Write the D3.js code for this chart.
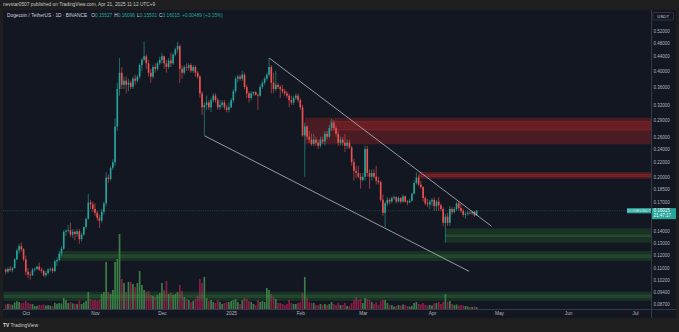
<!DOCTYPE html>
<html><head><meta charset="utf-8">
<script src="https://cdn.jsdelivr.net/npm/d3@7"></script>
<style>html,body{margin:0;padding:0;background:#1e1e1e;overflow:hidden}svg{display:block}</style>
</head><body>
<svg id="c" width="679" height="332"></svg>
<script>
// ---------- DATA ----------
const startDate = "2024-09-22";           // first daily candle
// daily [open, high, low, close]
const ohlc = [
 // Sep 22-30
 [.1090,.1100,.1055,.1075],[.1075,.1105,.1065,.1095],[.1095,.1115,.1075,.1085],[.1085,.1110,.1070,.1100],[.1100,.1175,.1095,.1165],
 [.1165,.1250,.1160,.1235],[.1235,.1290,.1210,.1270],[.1270,.1300,.1225,.1245],[.1245,.1255,.1150,.1165],
 // Oct
 [.1165,.1195,.1050,.1075],[.1075,.1100,.1030,.1055],[.1055,.1075,.1020,.1050],[.1050,.1100,.1045,.1090],[.1090,.1105,.1075,.1095],
 [.1095,.1120,.1085,.1110],[.1110,.1140,.1080,.1090],[.1090,.1105,.1065,.1080],[.1080,.1090,.1040,.1050],[.1050,.1080,.1035,.1065],
 [.1065,.1100,.1055,.1090],[.1090,.1105,.1075,.1095],[.1095,.1105,.1065,.1080],[.1080,.1165,.1070,.1150],[.1150,.1180,.1115,.1160],
 [.1160,.1230,.1150,.1210],[.1210,.1270,.1190,.1250],[.1250,.1410,.1240,.1395],[.1395,.1420,.1360,.1405],[.1405,.1460,.1390,.1410],
 [.1410,.1480,.1350,.1370],[.1370,.1420,.1340,.1395],[.1395,.1410,.1320,.1375],[.1375,.1420,.1350,.1400],[.1400,.1420,.1290,.1330],
 [.1330,.1385,.1310,.1370],[.1370,.1445,.1360,.1440],[.1440,.1530,.1420,.1520],[.1520,.1790,.1510,.1690],[.1690,.1720,.1620,.1670],
 [.1670,.1700,.1590,.1620],
 // Nov
 [.1620,.1680,.1550,.1580],[.1580,.1600,.1500,.1530],[.1530,.1560,.1430,.1500],[.1500,.1620,.1480,.1590],[.1590,.1700,.1560,.1680],
 [.1680,.2060,.1650,.1990],[.1990,.2030,.1920,.1970],[.1970,.2140,.1950,.2120],[.2120,.2240,.2090,.2200],[.2200,.2930,.2150,.2780],
 [.2780,.3700,.2700,.3550],[.3550,.4350,.3400,.3950],[.3950,.4100,.3550,.3650],[.3650,.3850,.3550,.3750],[.3750,.3850,.3450,.3650],
 [.3650,.3800,.3500,.3700],[.3700,.3750,.3550,.3600],[.3600,.3850,.3550,.3800],[.3800,.3900,.3650,.3750],[.3750,.3900,.3700,.3850],
 [.3850,.4200,.3800,.4150],[.4150,.4350,.4000,.4300],[.4300,.4840,.4250,.4400],[.4400,.4450,.4050,.4200],[.4200,.4300,.3850,.3950],
 [.3950,.4050,.3700,.3850],[.3850,.4150,.3800,.4100],[.4100,.4200,.3950,.4050],[.4050,.4250,.4000,.4200],[.4200,.4380,.4150,.4300],
 // Dec
 [.4300,.4500,.4200,.4400],[.4400,.4420,.4050,.4200],[.4200,.4300,.3950,.4100],[.4100,.4350,.4050,.4280],[.4280,.4500,.4100,.4200],
 [.4200,.4500,.4150,.4450],[.4450,.4650,.4400,.4600],[.4600,.4840,.4500,.4700],[.4700,.4750,.3700,.4050],[.4050,.4150,.3800,.3950],
 [.3950,.4150,.3900,.4100],[.4100,.4200,.4000,.4080],[.4080,.4200,.4000,.4150],[.4150,.4200,.3950,.4000],[.4000,.4150,.3950,.4100],
 [.4100,.4150,.3850,.3950],[.3950,.4000,.3800,.3850],[.3850,.3900,.3350,.3450],[.3450,.3500,.3000,.3150],[.3150,.3250,.2630,.3200],
 [.3200,.3400,.3100,.3250],[.3250,.3300,.3100,.3150],[.3150,.3350,.3050,.3300],[.3300,.3450,.3250,.3400],[.3400,.3450,.3250,.3300],
 [.3300,.3350,.3100,.3150],[.3150,.3300,.3100,.3200],[.3200,.3300,.3150,.3250],[.3250,.3300,.3100,.3150],[.3150,.3200,.3050,.3100],
 [.3100,.3250,.3050,.3150],
 // Jan
 [.3150,.3350,.3130,.3300],[.3300,.3550,.3250,.3500],[.3500,.3850,.3450,.3800],[.3800,.3900,.3700,.3850],[.3850,.3900,.3750,.3800],
 [.3800,.4000,.3750,.3900],[.3900,.3950,.3550,.3600],[.3600,.3650,.3350,.3450],[.3450,.3500,.3250,.3350],[.3350,.3500,.3300,.3450],
 [.3450,.3500,.3400,.3480],[.3480,.3500,.3400,.3420],[.3420,.3450,.3100,.3400],[.3400,.3650,.3380,.3600],[.3600,.3750,.3550,.3700],
 [.3700,.3850,.3650,.3800],[.3800,.3950,.3750,.3900],[.3900,.4350,.3850,.4100],[.4100,.4150,.3450,.3700],[.3700,.3950,.3450,.3550],
 [.3550,.4000,.3500,.3650],[.3650,.3700,.3550,.3600],[.3600,.3650,.3350,.3550],[.3550,.3650,.3450,.3500],[.3500,.3550,.3400,.3450],
 [.3450,.3500,.3350,.3400],[.3400,.3450,.3150,.3300],[.3300,.3400,.3200,.3250],[.3250,.3400,.3200,.3350],[.3350,.3450,.3300,.3400],
 [.3400,.3450,.3250,.3300],
 // Feb
 [.3300,.3350,.3100,.3150],[.3150,.3200,.2600,.2620],[.2620,.2850,.2000,.2780],[.2780,.2800,.2550,.2600],[.2600,.2700,.2500,.2550],
 [.2550,.2650,.2450,.2480],[.2480,.2650,.2450,.2550],[.2550,.2600,.2450,.2500],[.2500,.2550,.2400,.2450],[.2450,.2600,.2420,.2550],
 [.2550,.2600,.2480,.2520],[.2520,.2700,.2450,.2650],[.2650,.2700,.2550,.2600],[.2600,.2800,.2580,.2750],[.2750,.2920,.2700,.2850],
 [.2850,.2900,.2700,.2750],[.2750,.2800,.2600,.2650],[.2650,.2700,.2450,.2500],[.2500,.2600,.2450,.2550],[.2550,.2600,.2450,.2500],
 [.2500,.2650,.2350,.2450],[.2450,.2550,.2400,.2500],[.2500,.2550,.2400,.2420],[.2420,.2450,.2150,.2200],[.2200,.2250,.1950,.2080],
 [.2080,.2150,.1980,.2050],[.2050,.2150,.1980,.2000],[.2000,.2050,.1850,.1960],
 // Mar
 [.1960,.2050,.1940,.2000],[.2000,.2450,.1950,.2400],[.2400,.2450,.2000,.2050],[.2050,.2100,.1850,.2000],[.2000,.2100,.1950,.2050],
 [.2050,.2100,.1980,.2000],[.2000,.2150,.1900,.1950],[.1950,.2000,.1900,.1930],[.1930,.1950,.1700,.1720],[.1720,.1780,.1550,.1580],
 [.1580,.1700,.1440,.1680],[.1680,.1750,.1650,.1720],[.1720,.1740,.1670,.1700],[.1700,.1760,.1680,.1740],[.1740,.1770,.1720,.1750],
 [.1750,.1760,.1680,.1700],[.1700,.1760,.1690,.1740],[.1740,.1750,.1680,.1700],[.1700,.1780,.1690,.1760],[.1760,.1770,.1690,.1700],
 [.1700,.1720,.1660,.1690],[.1690,.1730,.1680,.1710],[.1710,.1800,.1700,.1790],[.1790,.1950,.1780,.1920],[.1920,.2060,.1900,.1990],
 [.1990,.2020,.1880,.1900],[.1900,.1950,.1850,.1870],[.1870,.1880,.1700,.1740],[.1740,.1760,.1660,.1680],[.1680,.1730,.1640,.1670],
 [.1670,.1720,.1620,.1700],
 // Apr 1-21
 [.1700,.1740,.1650,.1720],[.1720,.1750,.1600,.1650],[.1650,.1720,.1600,.1700],[.1700,.1750,.1600,.1660],[.1660,.1680,.1600,.1620],
 [.1620,.1640,.1450,.1480],[.1480,.1570,.1300,.1540],[.1540,.1580,.1450,.1480],[.1480,.1650,.1450,.1620],[.1620,.1640,.1560,.1590],
 [.1590,.1640,.1570,.1620],[.1620,.1700,.1600,.1680],[.1680,.1700,.1600,.1630],[.1630,.1680,.1580,.1600],[.1600,.1620,.1540,.1560],
 [.1560,.1590,.1520,.1570],[.1570,.1600,.1550,.1580],[.1580,.1600,.1560,.1575],[.1575,.1600,.1560,.1590],[.1590,.1600,.1540,.1553],
 [.15527,.16096,.15501,.16015]
];
// daily volume (millions DOGE, estimated)
const volume = [
 450,520,480,430,650,780,700,600,620,
 800,620,520,500,300,320,420,400,450,350,400,320,300,620,520,600,550,1100,900,600,700,560,520,480,850,500,650,800,1700,1000,850,
 900,800,950,1500,1700,4700,1700,1500,1900,4700,5000,7500,3000,2600,1700,2700,2700,2500,2200,2600,3800,2400,1900,1700,1800,1400,1300,1200,1400,1600,
 2600,1900,2800,1500,1600,1400,1500,1700,2400,1800,1200,1000,900,700,800,1000,1300,3000,2600,3200,1100,800,900,700,600,900,700,500,600,700,700,
 800,900,1000,700,500,900,1100,1000,800,700,500,400,900,700,800,700,2100,1900,1500,1200,1000,600,600,500,400,500,900,600,500,500,600,
 700,1600,3200,1100,700,600,600,400,400,500,400,500,400,500,700,500,400,600,400,400,600,300,300,600,900,1200,900,1000,
 600,1100,1000,900,700,500,700,400,800,900,900,600,400,400,250,300,400,350,450,400,300,250,300,600,700,500,450,600,400,350,400,
 350,550,600,700,500,700,1500,700,800,500,400,450,350,400,350,300,250,200,200,250,200
];
const priceTicks = [0.52,0.48,0.44,0.40,0.36,0.32,0.29,0.26,0.24,0.22,0.20,0.185,0.17,0.14,0.13,0.12,0.11,0.102,0.094,0.087];
const monthTicks = ["2024-10-01","2024-11-01","2024-12-01","2025-01-01","2025-02-01","2025-03-01","2025-04-01","2025-05-01","2025-06-01","2025-07-01"];
const monthLabels = ["Oct","Nov","Dec","2025","Feb","Mar","Apr","May","Jun","Jul"];
// zones: [start date, outer top, outer bottom, inner top, inner bottom, inner start]
const resistanceZones = [
 ["2025-02-03",0.2943,0.2473,0.2868,0.2717,"2025-02-14"],
 ["2025-03-26",0.2063,0.1973,0.2031,0.2005,"2025-03-26"]
];
const supportZones = [
 ["2025-04-07",0.1427,0.1300,0.1367,0.1352,"2025-04-07"],
 ["2024-10-16",0.1231,0.1153,0.1199,0.1181,"2024-10-16"],
 ["2024-09-21",0.0943,0.0888,0.0922,0.0909,"2024-09-21"]
];
// channel lines: [date1, price1, date2, price2]
const trendLines = [
 ["2025-01-18 00:00",0.435,"2025-04-27 16:00",0.1447],
 ["2024-12-20 00:00",0.2616,"2025-04-17 16:00",0.1077]
];
const lastPrice = 0.16015;
const legendTitle = "Dogecoin / TetherUS · 1D · BINANCE";
const legendOHLC = [["O","0.15527"],["H","0.16096"],["L","0.15501"],["C","0.16015"]];
const legendChange = "+0.00489 (+3.15%)";

// ---------- DRAW ----------
const parseDay = d3.timeParse("%Y-%m-%d");
const parseDT = d3.timeParse("%Y-%m-%d %H:%M");
const svg = d3.select("#c");
const PL=3, PT=10, PR=651, PB=309, AXR=676, PBOT=318;
const FONT = "'Liberation Sans', Arial, sans-serif";
const UP="#26a69a", DN="#ef5350";

const x = d3.scaleTime().domain([parseDay("2024-10-01"), parseDay("2025-07-01")]).range([25.8, 635.1]);
const y = d3.scaleLog().domain([0.087, 0.52]).range([304, 30.7]);
const vh = d3.scaleLinear().domain([0, d3.max(volume)]).range([0, 75]);

const start = parseDay(startDate);
const candles = ohlc.map((d,i)=>({date:d3.timeDay.offset(start,i), o:d[0], h:d[1], l:d[2], c:d[3], v:volume[i]}));

// frame
svg.append("rect").attr("width",679).attr("height",332).attr("fill","#1e1e1e");
svg.append("rect").attr("x",PL).attr("y",PT).attr("width",AXR-PL).attr("height",PBOT-PT).attr("fill","#131722");

svg.append("text").attr("x",3).attr("y",6).attr("fill","#c8c8c8").attr("font-size",4.8).attr("font-family",FONT)
 .text("nevstar0507 published on TradingView.com, Apr 21, 2025 11:12 UTC+9");

svg.append("clipPath").attr("id","plot").append("rect").attr("x",PL).attr("y",PT).attr("width",PR-PL).attr("height",PB-PT);
const g = svg.append("g").attr("clip-path","url(#plot)");

// volume
const bw = 1.7;
g.append("g").selectAll("rect").data(candles).join("rect")
 .attr("x",d=>x(d.date)-bw/2).attr("width",bw)
 .attr("y",d=>PB-vh(d.v)).attr("height",d=>vh(d.v))
 .attr("fill",d=>d.c>=d.o?"#3b7d46":"#8a1d47");

// zones
function drawZones(zones, outer, inner, line){
  zones.forEach(z=>{
    const x0=x(parseDay(z[0])), xi=x(parseDay(z[5]));
    g.append("rect").attr("x",x0).attr("width",PR-x0).attr("y",y(z[1])).attr("height",y(z[2])-y(z[1])).attr("fill",outer);
    g.append("rect").attr("x",xi).attr("width",PR-xi).attr("y",y(z[3])).attr("height",y(z[4])-y(z[3])).attr("fill",inner);
    [z[3],z[4]].forEach(p=>g.append("line").attr("x1",xi).attr("x2",PR).attr("y1",y(p)).attr("y2",y(p)).attr("stroke",line).attr("stroke-width",0.6));
  });
}
drawZones(resistanceZones,"rgba(178,34,34,0.34)","rgba(200,40,40,0.25)","rgba(230,60,60,0.45)");
drawZones(supportZones,"rgba(46,125,50,0.26)","rgba(76,175,80,0.12)","rgba(90,190,95,0.3)");

// last price dotted line
g.append("line").attr("x1",PL).attr("x2",PR).attr("y1",y(lastPrice)).attr("y2",y(lastPrice))
 .attr("stroke","rgba(38,166,154,0.7)").attr("stroke-width",0.6).attr("stroke-dasharray","0.8,1.4");

// candles
const cg = g.append("g");
cg.selectAll("line").data(candles).join("line")
 .attr("x1",d=>x(d.date)).attr("x2",d=>x(d.date)).attr("y1",d=>y(d.h)).attr("y2",d=>y(d.l))
 .attr("stroke",d=>d.c>=d.o?UP:DN).attr("stroke-width",0.6);
cg.selectAll("rect").data(candles).join("rect")
 .attr("x",d=>x(d.date)-0.8).attr("width",1.6)
 .attr("y",d=>y(Math.max(d.o,d.c))).attr("height",d=>Math.max(0.6,Math.abs(y(d.o)-y(d.c))))
 .attr("fill",d=>d.c>=d.o?UP:DN);

// trend lines
trendLines.forEach(t=>{
  g.append("line").attr("x1",x(parseDT(t[0]))).attr("y1",y(t[1])).attr("x2",x(parseDT(t[2]))).attr("y2",y(t[3]))
   .attr("stroke","#b8bbc4").attr("stroke-width",0.8);
});

// axes separators
svg.append("line").attr("x1",PR+0.5).attr("x2",PR+0.5).attr("y1",PT).attr("y2",PBOT).attr("stroke","#363a45").attr("stroke-width",1);
svg.append("line").attr("x1",PL).attr("x2",AXR).attr("y1",PB+0.5).attr("y2",PB+0.5).attr("stroke","#363a45").attr("stroke-width",1);

// price axis
const ya = svg.append("g").attr("transform",`translate(${PR},0)`)
 .call(d3.axisRight(y).tickValues(priceTicks).tickFormat(d3.format(".5f")).tickSize(0).tickPadding(2.5));
ya.select(".domain").remove();
ya.selectAll("text").attr("fill","#b2b5be").attr("font-size",4.5).attr("font-family",FONT);

// time axis
const xa = svg.append("g").attr("transform",`translate(0,${PB})`)
 .call(d3.axisBottom(x).tickValues(monthTicks.map(parseDay)).tickFormat((d,i)=>monthLabels[i]).tickSize(0).tickPadding(2.5));
xa.select(".domain").remove();
xa.selectAll("text").attr("fill","#b2b5be").attr("font-size",4.8).attr("font-family",FONT);

// USDT box
svg.append("rect").attr("x",653).attr("y",12.5).attr("width",20.5).attr("height",7.5).attr("fill","#131722").attr("stroke","#434651").attr("stroke-width",0.6).attr("rx",0.8);
svg.append("text").attr("x",663.2).attr("y",17.8).attr("text-anchor","middle").attr("fill","#d1d4dc").attr("font-size",4.3).attr("font-family",FONT).text("USDT");

// last price labels
const yl = y(lastPrice);
svg.append("rect").attr("x",627).attr("y",yl-2.6).attr("width",24).attr("height",5.2).attr("fill",UP);
svg.append("text").attr("x",639).attr("y",yl+1.5).attr("text-anchor","middle").attr("fill","#e8f5f3").attr("font-size",4.2).attr("font-family",FONT).text("DOGEUSDT");
svg.append("rect").attr("x",PR+1).attr("y",yl-2.6).attr("width",24).attr("height",11).attr("fill",UP);
svg.append("text").attr("x",PR+2.5).attr("y",yl+1.6).attr("fill","#ffffff").attr("font-size",4.5).attr("font-family",FONT).text(lastPrice.toFixed(5));
svg.append("text").attr("x",PR+2.5).attr("y",yl+6.6).attr("fill","#ffffff").attr("font-size",4.5).attr("font-family",FONT).text("21:47:17");

// legend
const lg = svg.append("text").attr("x",7).attr("y",16.8).attr("font-size",4.8).attr("font-family",FONT);
lg.append("tspan").attr("fill","#d1d4dc").text(legendTitle);
legendOHLC.forEach((p,i)=>{
  lg.append("tspan").attr("fill","#d1d4dc").attr("dx",i===0?4:2).text(p[0]);
  lg.append("tspan").attr("fill",UP).text(p[1]);
});
lg.append("tspan").attr("fill",UP).attr("dx",2).text(legendChange);

// footer logo
svg.append("text").attr("x",3).attr("y",326.5).attr("fill","#d8d8d8").attr("font-size",5).attr("font-weight","bold").attr("font-family",FONT).text("TV");
svg.append("text").attr("x",10.5).attr("y",326.5).attr("fill","#cfcfcf").attr("font-size",5).attr("font-family",FONT).text("TradingView");
</script>
</body></html>
